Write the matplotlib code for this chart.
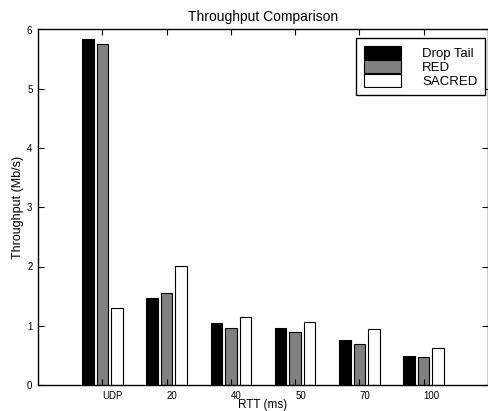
import matplotlib
matplotlib.use("Agg")
import matplotlib.pyplot as plt
import matplotlib.transforms as mtransforms
import numpy as np

plt.rcParams['font.family'] = ['Liberation Sans', 'DejaVu Sans']

categories = ["UDP", "20", "40", "50", "70", "100"]
drop_tail = [5.84, 1.46, 1.05, 0.96, 0.76, 0.49]
red = [5.76, 1.56, 0.97, 0.90, 0.69, 0.47]
sacred = [1.30, 2.01, 1.15, 1.07, 0.94, 0.62]
series_names = ["Drop Tail", "RED", "SACRED"]
series_colors = ["#000000", "#808080", "#ffffff"]

fig = plt.figure(figsize=(4.89, 4.11), dpi=100)
ax = fig.add_axes([38/489, 26/411, 450/489, 355.5/411])

x = np.arange(1, len(categories) + 1)
offsets = [-0.225, 0.0, 0.225]
width = 0.18
for vals, name, col, off in zip([drop_tail, red, sacred], series_names, series_colors, offsets):
    ax.bar(x + off, vals, width, color=col, edgecolor='black', linewidth=0.8, label=name)

ax.set_xlim(0, 7)
ax.set_ylim(0, 6)
ax.set_xticks(x)
ax.set_xticklabels(categories, ha='left', fontsize=7)
offset = mtransforms.ScaledTranslation(-2/100, 0, fig.dpi_scale_trans)
for lab in ax.get_xticklabels():
    lab.set_transform(lab.get_transform() + offset)
ax.set_yticks(range(0, 7))
ax.tick_params(axis='both', direction='in', length=4, width=0.8, top=True, right=True,
               labelsize=7, pad=4)
for sp in ax.spines.values():
    sp.set_linewidth(1.0)
    sp.set_color('black')

ax.set_title("Throughput Comparison", fontsize=10, pad=6)
ax.set_xlabel("RTT (ms)", fontsize=8.5, labelpad=-1)
ax.set_ylabel("Throughput (Mb/s)", fontsize=9, labelpad=2)

leg = ax.legend(loc='upper right', bbox_to_anchor=(447/450, 347/355.5), borderaxespad=0,
                fontsize=9.5, handlelength=2.8, handleheight=1.14, labelspacing=0,
                handletextpad=1.6, borderpad=0.58, fancybox=False, framealpha=1,
                edgecolor='black')
leg.get_frame().set_linewidth(1.0)

fig.savefig("out.png", dpi=100)
